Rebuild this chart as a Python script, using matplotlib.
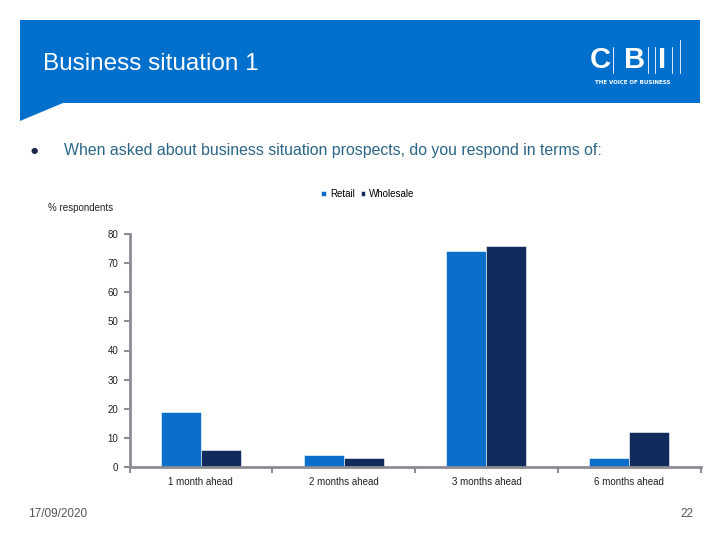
import numpy as np
import matplotlib.pyplot as plt
from matplotlib.patches import Polygon

categories = ["1 month ahead", "2 months ahead", "3 months ahead", "6 months ahead"]
retail = [19, 4, 74, 3]
wholesale = [6, 3, 76, 12]
series_names = ["Retail", "Wholesale"]
yticks = [0, 10, 20, 30, 40, 50, 60, 70, 80]

W, H = 720, 540
blue = "#0070CC"
c_retail = "#0A6FCB"
c_wholesale = "#102B5C"
axis_grey = "#8C8C94"

fig = plt.figure(figsize=(7.2, 5.4), dpi=100)
fig.patch.set_facecolor("white")

# overlay in pixel coords (y down)
bg = fig.add_axes([0, 0, 1, 1])
bg.set_xlim(0, W)
bg.set_ylim(H, 0)
bg.axis("off")

# header band
bg.add_patch(Polygon([(20, 20), (700, 20), (700, 103), (63, 103), (20, 121)],
                     closed=True, facecolor=blue, edgecolor="none"))
bg.text(43, 64, "Business situation 1", color="white", fontsize=17.5,
        va="center", ha="left", family="Liberation Sans")

# CBI logo
for x, letter in [(600, "C"), (635, "B"), (662, "I")]:
    bg.text(x, 60, letter, color="white", fontsize=21, ha="center", va="center",
            family="Liberation Sans", fontweight="bold")
for x, y0, y1 in [(613, 47, 73), (648, 47, 73), (655, 47, 73), (672, 47, 73), (680, 40, 73)]:
    bg.plot([x, x], [y0, y1], color="white", lw=0.6)
bg.text(633, 82, "THE VOICE OF BUSINESS", color="white", fontsize=4,
        ha="center", va="center", family="DejaVu Sans", fontweight="bold")

# bullet line
bg.text(34, 151, "\u25CF", color="#1B2A4A", fontsize=6, ha="center", va="center")
bg.text(64, 151, "When asked about business situation prospects, do you respond in terms of:",
        color="#2B6687", fontsize=11.4, ha="left", va="center", family="Liberation Sans")

bg.text(48, 208, "% respondents", color="#222222", fontsize=7, ha="left", va="center",
        family="Liberation Sans")

# footer
bg.text(28, 514, "17/09/2020", color="#555555", fontsize=8.5, ha="left", va="center",
        family="Liberation Sans")
bg.text(693, 514, "22", color="#555555", fontsize=8.5, ha="right", va="center",
        family="Liberation Sans")

# chart
left, right = 129.5 / W, 700.5 / W
bottom, top = (H - 467) / H, (H - 234) / H
ax = fig.add_axes([left, bottom, right - left, top - bottom])
x = np.arange(len(categories))
bw = 0.28
ax.bar(x - bw / 2, retail, bw, color=c_retail, edgecolor="white", linewidth=0.4, label=series_names[0])
ax.bar(x + bw / 2, wholesale, bw, color=c_wholesale, edgecolor="white", linewidth=0.4, label=series_names[1])
ax.set_xlim(-0.5, len(categories) - 0.5)
ax.set_ylim(0, 80)
ax.set_yticks(yticks)
ax.set_yticklabels([str(v) for v in yticks], fontsize=7, color="#222222", family="Liberation Sans")
ax.set_xticks(np.arange(len(categories) + 1) - 0.5)
ax.set_xticklabels([])
ax.set_xticks(x, minor=True)
ax.set_xticklabels(categories, minor=True, fontsize=7, color="#222222", family="Liberation Sans")
ax.tick_params(axis="x", which="minor", length=0, pad=7)
ax.tick_params(axis="x", which="major", length=4, direction="out", color=axis_grey, width=1.5)
ax.tick_params(axis="y", length=4, direction="out", color=axis_grey, width=1.5, pad=4)
for s in ["top", "right"]:
    ax.spines[s].set_visible(False)
for s in ["left", "bottom"]:
    ax.spines[s].set_color(axis_grey)
    ax.spines[s].set_linewidth(2)
ax.set_facecolor("none")

leg = fig.legend(loc="center", bbox_to_anchor=(368 / W, 1 - 194 / H), ncol=2, frameon=False,
                 handlelength=0.5, handleheight=0.5, handletextpad=0.4,
                 columnspacing=0.6, prop={"family": "Liberation Sans", "size": 7})

fig.savefig("out.png", dpi=100)
